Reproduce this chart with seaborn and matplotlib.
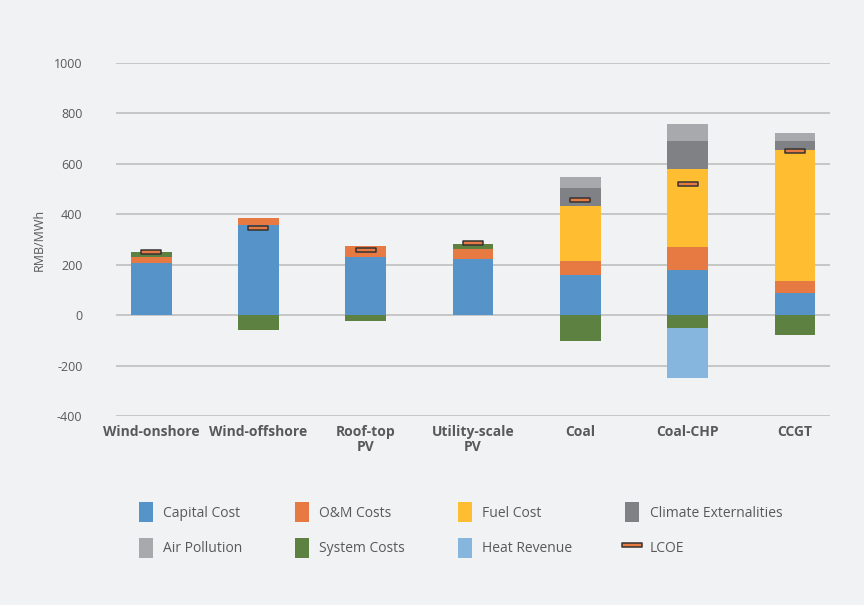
import numpy as np
import pandas as pd
import seaborn as sns
import matplotlib.pyplot as plt
from matplotlib.path import Path
from matplotlib.patches import Patch
from matplotlib.lines import Line2D

# data (RMB/MWh)
techs = ['Wind-onshore', 'Wind-offshore', 'Roof-top\nPV', 'Utility-scale\nPV', 'Coal', 'Coal-CHP', 'CCGT']
capital = [209, 356, 230, 222, 159, 178, 88]
om = [23, 30, 46, 42, 58, 91, 46]
fuel = [0, 0, 0, 0, 218, 312, 522]
climate = [0, 0, 0, 0, 71, 111, 36]
air = [0, 0, 0, 0, 43, 67, 31]
system = [20, -57, -21, 20, -103, -51, -79]
heat = [0, 0, 0, 0, 0, -198, 0]
lcoe = [249, 347, 260, 288, 457, 520, 652]

colors = {
    'Capital Cost': '#5693C8',
    'O&M Costs': '#E67A42',
    'Fuel Cost': '#FFBE31',
    'Climate Externalities': '#808185',
    'Air Pollution': '#A8A9AC',
    'System Costs': '#5D8140',
    'Heat Revenue': '#86B5DE',
}

df = pd.DataFrame({'tech': techs, 'Capital Cost': capital, 'O&M Costs': om,
                   'Fuel Cost': fuel, 'Climate Externalities': climate,
                   'Air Pollution': air, 'System Costs': system,
                   'Heat Revenue': heat, 'LCOE': lcoe})

# positive parts stack upward, negative system cost / heat revenue go down
sys_pos = df['System Costs'].clip(lower=0)
sys_neg = df['System Costs'].clip(upper=0)
pos_layers = [('Capital Cost', df['Capital Cost']), ('O&M Costs', df['O&M Costs']),
              ('System Costs', sys_pos), ('Fuel Cost', df['Fuel Cost']),
              ('Climate Externalities', df['Climate Externalities']),
              ('Air Pollution', df['Air Pollution'])]
neg_layers = [('System Costs', sys_neg), ('Heat Revenue', df['Heat Revenue'])]

bg = '#F1F2F4'
txt = '#595959'
sns.set_theme(style='white')
plt.rcParams['font.family'] = ['Open Sans', 'DejaVu Sans']
plt.rcParams['axes.unicode_minus'] = False

fig = plt.figure(figsize=(8.64, 6.05), dpi=100, facecolor=bg)
ax = fig.add_axes([0.134, 0.312, 0.827, 0.584])
ax.set_facecolor(bg)

# overlay cumulative totals, tallest first
cum = np.cumsum([v.values for _, v in pos_layers], axis=0)
for i in reversed(range(len(pos_layers))):
    name = pos_layers[i][0]
    sns.barplot(x=df['tech'], y=cum[i], color=colors[name], width=0.38,
                saturation=1, linewidth=0, ax=ax, zorder=2)
cumn = np.cumsum([v.values for _, v in neg_layers], axis=0)
for i in reversed(range(len(neg_layers))):
    name = neg_layers[i][0]
    sns.barplot(x=df['tech'], y=cumn[i], color=colors[name], width=0.38,
                saturation=1, linewidth=0, ax=ax, zorder=2)

rect = Path([(-1, -0.2), (1, -0.2), (1, 0.2), (-1, 0.2), (-1, -0.2)],
            [Path.MOVETO, Path.LINETO, Path.LINETO, Path.LINETO, Path.CLOSEPOLY])
ax.plot(range(len(techs)), df['LCOE'], linestyle='none', marker=rect,
        markersize=15, markerfacecolor='#E67A42', markeredgecolor='#333333',
        markeredgewidth=1.1, zorder=4)

ax.set_ylim(-400, 1000)
ax.set_xlim(-0.33, 6.33)
ax.set_yticks(range(-400, 1001, 200))
ax.yaxis.grid(True, color='#BFBFBF', linewidth=1.2, zorder=0)
ax.set_axisbelow(True)
for s in ax.spines.values():
    s.set_visible(False)
ax.tick_params(axis='y', colors=txt, labelsize=9, length=0, pad=24)
ax.tick_params(axis='x', colors=txt, length=0, pad=6)
for lab in ax.get_xticklabels():
    lab.set_fontweight('bold')
    lab.set_fontsize(10)
    lab.set_linespacing(1.1)
ax.set_xlabel('')
ax.set_ylabel('RMB/MWh', color=txt, fontsize=9, labelpad=6)

order = ['Capital Cost', 'O&M Costs', 'Fuel Cost', 'Climate Externalities',
         'Air Pollution', 'System Costs', 'Heat Revenue']
handles = [Patch(facecolor=colors[n], edgecolor='none', label=n) for n in order]
handles.append(Line2D([], [], linestyle='none', marker=rect, markersize=14,
                      markerfacecolor='#E67A42', markeredgecolor='#333333',
                      markeredgewidth=1.1, label='LCOE'))
# reorder for row-wise filling with ncol=4
rows = [handles[:4], handles[4:]]
colwise = [rows[r][c] for c in range(4) for r in range(2)]
leg = fig.legend(handles=colwise, labels=[h.get_label() for h in colwise],
                 ncol=4, loc='center', bbox_to_anchor=(0.533, 0.124),
                 frameon=False, fontsize=10, handlelength=1.0, handleheight=1.9,
                 columnspacing=3.8, labelspacing=1.1, handletextpad=0.75)
for t in leg.get_texts():
    t.set_color(txt)

fig.savefig('out.png', dpi=100, facecolor=bg)
